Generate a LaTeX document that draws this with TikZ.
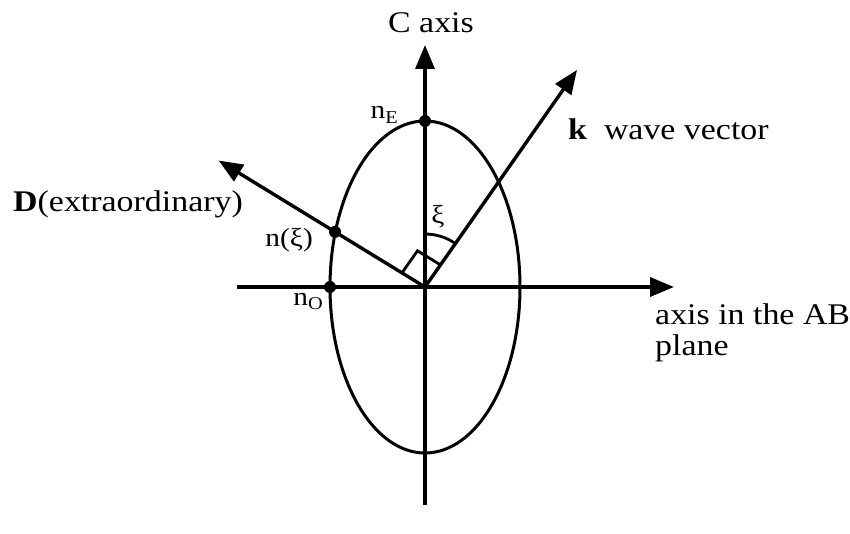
\documentclass[tikz,border=0pt]{standalone}
\usepackage{fontspec}
\setmainfont{Liberation Serif}[FakeStretch=1.13]
\usetikzlibrary{arrows.meta,calc}
\newcommand{\lowsub}[1]{{\fontsize{18}{18}\selectfont\raisebox{-5pt}{#1}}}
\tikzset{
  ax/.style={line width=3.4pt,-{Triangle[length=24pt,width=19pt]}},
  thin line/.style={line width=3pt},
  lbl/.style={inner sep=0pt,font=\fontsize{30}{34}\selectfont},
  small lbl/.style={inner sep=0pt,font=\fontsize{26}{30}\selectfont},
  dotnode/.style={circle,fill=black,inner sep=0pt,minimum size=12pt}
}
\begin{document}
\begin{tikzpicture}[x=1pt,y=1pt]
\useasboundingbox (0,0) rectangle (850,533);
\coordinate (O) at (425,246);
\coordinate (vbot) at (425,28);
\coordinate (vtop) at (425,488);
\coordinate (hleft) at (237,246);
\coordinate (hright) at (674,246);
\coordinate (ktip) at ($(O)+(55:265)$);
\coordinate (Dtip) at ($(O)+(148.5:242)$);
% ellipse
\draw[thin line] (O) ellipse [x radius=95, y radius=166];
% axes
\draw[ax] (vbot) -- (vtop);
\draw[ax] (hleft) -- (hright);
\draw[ax] (O) -- (ktip);
\draw[ax] (O) -- (Dtip);
% right-angle mark
\draw[line width=2.8pt] ($(O)+(148.5:27)$) -- ++(55:27) -- ($(O)+(55:27)$);
% xi arc
\draw[line width=2.8pt] ($(O)+(90:53)$) arc[start angle=90,end angle=55,radius=53];
% dots
\node[dotnode] (nE) at (425,412) {};
\node[dotnode] (nO) at (330,246) {};
\node[dotnode] (nxi) at ($(O)+(148.5:105.5)$) {};
% labels
\node[lbl,anchor=base] (caxis) at (431,500) {C axis};
\node[small lbl,anchor=base east] (lnE) at (398,414) {n\lowsub{E}};
\node[lbl,anchor=base west] (lk) at (568,393) {\textbf{k}\ \ wave vector};
\node[lbl,anchor=base west] (lD) at (13,321) {\textbf{D}(extraordinary)};
\node[small lbl,anchor=base east] (lnxi) at (313,286) {n(ξ)};
\node[small lbl,anchor=base east] (lnO) at (323,228) {n\lowsub{O}};
\node[lbl,anchor=base west] (lab) at (655,208) {axis in the AB};
\node[lbl,anchor=base west] (lplane) at (655,178) {plane};
\node[small lbl] (lxi) at (438,316) {ξ};
\end{tikzpicture}
\end{document}
